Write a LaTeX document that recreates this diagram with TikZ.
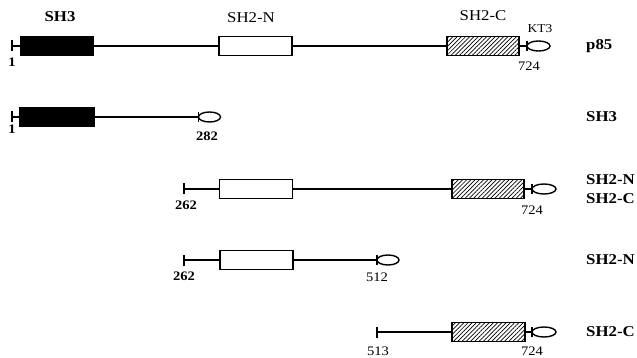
\documentclass[tikz,border=0pt]{standalone}
\usepackage{fontspec}
\setmainfont{Liberation Serif}
\newfontfamily\lblfont[FakeStretch=1.12]{Liberation Serif}
\usetikzlibrary{shapes.geometric,patterns.meta}
\tikzset{
  dombox/.style={draw, line width=1.4pt, minimum width=73pt, minimum height=19pt, inner sep=0pt, outer sep=0pt},
  sh3box/.style={dombox, fill=black},
  nbox/.style={dombox, fill=white},
  cbox/.style={dombox, pattern={Lines[angle=45, distance=3pt, line width=0.7pt]}},
  cterm/.style={draw, ellipse, line width=1.4pt, minimum width=23pt, minimum height=10pt, inner sep=0pt, outer sep=0pt},
  chain/.style={line width=1.1pt},
  tickmark/.style={line width=1.5pt},
  resnum/.style={font=\lblfont\fontsize{13}{13}\selectfont, inner sep=0pt},
  boldnum/.style={font=\lblfont\bfseries\fontsize{13}{13}\selectfont, inner sep=0pt},
  toplbl/.style={font=\lblfont\fontsize{15}{15}\selectfont, inner sep=0pt},
  rowlbl/.style={font=\lblfont\bfseries\fontsize{15}{15}\selectfont, inner sep=0pt, anchor=west},
}
\begin{document}
\begin{tikzpicture}[x=1pt, y=-1pt]
\useasboundingbox (0,0) rectangle (637,358);

% ---- p85 (full length) ----
\coordinate (a0) at (12,46);
\node[sh3box] (a1) at (57,46) {};
\node[nbox] (a2) at (255.5,46) {};
\node[cbox, minimum width=72pt] (a3) at (483,46) {};
\node[cterm] (a4) at (538.5,46) {};
\draw[chain] (a0) -- (a1.west) (a1.east) -- (a2.west) (a2.east) -- (a3.west) (a3.east) -- (a4.west);
\draw[tickmark] ([yshift=-5.5pt]a0) -- ([yshift=5.5pt]a0);
\draw[tickmark] ([yshift=-5pt]a4.west) -- ([yshift=5pt]a4.west);
\node[toplbl, font=\lblfont\bfseries\fontsize{15}{15}\selectfont] (l1) at (60,17) {SH3};
\node[toplbl] (l2) at (251,18) {SH2-N};
\node[toplbl] (l3) at (483,16) {SH2-C};
\node[resnum, font=\lblfont\fontsize{12}{12}\selectfont] (l4) at (540,29) {KT3};
\node[boldnum] (l5) at (12,62) {1};
\node[resnum] (l6) at (529,66) {724};
\node[rowlbl] (r1) at (586,46) {p85};

% ---- SH3 fragment ----
\coordinate (b0) at (12,117);
\node[sh3box, minimum width=74pt] (b1) at (57,117) {};
\node[cterm, minimum width=22pt] (b2) at (209.5,117) {};
\draw[chain] (b0) -- (b1.west) (b1.east) -- (b2.west);
\draw[tickmark] ([yshift=-5.5pt]b0) -- ([yshift=5.5pt]b0);
\draw[tickmark] ([yshift=-5pt]b2.west) -- ([yshift=5pt]b2.west);
\node[boldnum] (m1) at (12,129) {1};
\node[boldnum] (m2) at (207,136) {282};
\node[rowlbl] (r2) at (586,117) {SH3};

% ---- SH2-N + SH2-C fragment ----
\coordinate (c0) at (184,189);
\node[nbox] (c1) at (256,189) {};
\node[cbox, minimum width=72pt] (c2) at (488,189) {};
\node[cterm, minimum width=24pt] (c3) at (544,189) {};
\draw[chain] (c0) -- (c1.west) (c1.east) -- (c2.west) (c2.east) -- (c3.west);
\draw[tickmark] ([yshift=-5.5pt]c0) -- ([yshift=5.5pt]c0);
\draw[tickmark] ([yshift=-5pt]c3.west) -- ([yshift=5pt]c3.west);
\node[boldnum] (n1) at (186,205) {262};
\node[resnum] (n2) at (532,210) {724};
\node[rowlbl] (r3) at (586,180) {SH2-N};
\node[rowlbl] (r4) at (586,199) {SH2-C};

% ---- SH2-N fragment ----
\coordinate (d0) at (184,260);
\node[nbox] (d1) at (256.5,260) {};
\node[cterm, minimum width=22pt] (d2) at (388,260) {};
\draw[chain] (d0) -- (d1.west) (d1.east) -- (d2.west);
\draw[tickmark] ([yshift=-5.5pt]d0) -- ([yshift=5.5pt]d0);
\draw[tickmark] ([yshift=-5pt]d2.west) -- ([yshift=5pt]d2.west);
\node[boldnum] (o1) at (184,276) {262};
\node[resnum] (o2) at (377,277) {512};
\node[rowlbl] (r5) at (586,260) {SH2-N};

% ---- SH2-C fragment ----
\coordinate (e0) at (377,332);
\node[cbox] (e1) at (488.5,332) {};
\node[cterm, minimum width=24pt] (e2) at (544,332) {};
\draw[chain] (e0) -- (e1.west) (e1.east) -- (e2.west);
\draw[tickmark] ([yshift=-5.5pt]e0) -- ([yshift=5.5pt]e0);
\draw[tickmark] ([yshift=-5pt]e2.west) -- ([yshift=5pt]e2.west);
\node[resnum] (p1) at (378,351) {513};
\node[resnum] (p2) at (532,351) {724};
\node[rowlbl] (r6) at (586,332) {SH2-C};
\end{tikzpicture}
\end{document}
